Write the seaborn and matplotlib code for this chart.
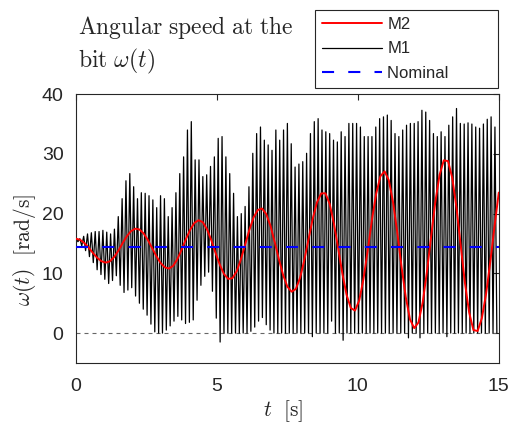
import numpy as np
import pandas as pd
import matplotlib
matplotlib.use("Agg")
import matplotlib.pyplot as plt
import seaborn as sns

# M1 (black): top and bottom of every stick-slip cycle
m1_peaks = [
    15.9, 15.8, 16.2,
    16.6, 16.8, 17.0, 17.0, 17.2, 16.9, 16.6, 17.4,
    19.5, 22.5, 25.5, 26.7, 24.5, 22.5, 23.5,
    23.4, 23.0, 22.3, 21.0, 23.0, 22.5, 19.5, 21.0,
    23.5, 26.7, 29.5, 34.0, 35.4,
    29.0, 29.0, 26.2, 26.5, 27.9, 29.5,
    32.6, 32.9, 29.5, 26.7, 23.4, 19.5,
    20.0, 21.2, 24.5, 30.1,
    33.4, 34.5, 32.3, 31.5, 30.6,
    34.0, 32.3, 34.0, 35.1,
    31.7, 27.8, 28.3, 28.7, 30.1,
    33.4, 35.4, 35.9, 34.0, 33.7, 33.4, 32.3,
    32.0, 33.7, 32.9, 35.1, 35.1, 35.1, 34.5,
    32.9, 32.9, 32.9, 34.5, 35.9, 36.2, 36.5,
    35.6, 33.4, 32.9, 34.0, 34.8, 35.1,
    35.1, 35.4, 37.3, 37.0, 35.6, 33.4,
    32.9, 33.7, 32.9, 34.8, 36.2, 37.6,
    35.1, 35.0, 35.2, 35.0, 34.5, 34.3, 35.0, 35.8, 36.2, 34.5,
]
m1_troughs = [
    15.3, 14.6, 13.8,
    12.8, 11.8, 10.6, 9.8, 9.0, 8.3, 8.8, 9.6,
    8.0, 6.8, 7.2, 7.6, 6.2, 5.0, 4.0,
    3.0, 1.5, 0.2, 0.0, 0.0, 0.5, 1.2, 2.0,
    2.8, 2.2, 1.6, 1.8, 2.2,
    5.5, 8.0, 9.5, 10.2, 7.0, 2.5,
    -1.5, 0.0, 0.0, 0.0, 0.0, 0.0,
    0.0, 0.0, 0.3, 1.0,
    2.0, 2.6, 1.4, 0.5, 0.0,
    0.0, 0.0, 0.0, 0.0,
    0.0, 0.0, 0.0, 0.0, 0.0,
    -0.6, 0.0, 0.0, 0.0, 0.0, 2.0, 0.0,
    0.0, -1.2, 0.0, 0.0, 0.0, 0.0, 0.0,
    0.0, 0.0, 0.0, 0.0, 0.0, 0.0, 0.0,
    0.0, 0.0, 0.0, 0.0, -0.8, 0.0,
    0.0, -0.8, 0.0, 0.0, 0.0, 0.0,
    0.0, 0.0, -0.6, 0.0, 0.0, 0.0,
    0.0, 0.0, 0.0, 0.0, 0.0, 0.0, 0.0, 0.0, 0.0, 0.0,
]
m1_period = 15 / 110  # s

# M2 (red): value every 0.15 s from 0 to 15 s
m2_step = 0.15
m2_w = [
    15.80, 15.61, 15.06, 14.30, 13.42, 12.62, 12.04, 11.80, 12.00, 12.71,
    13.78, 15.03, 16.19, 17.06, 17.48, 17.35, 16.68, 15.58, 14.24, 12.89,
    11.75, 11.01, 10.80, 11.27, 12.41, 13.98, 15.72, 17.29, 18.44, 18.90,
    18.56, 17.37, 15.56, 13.45, 11.48, 9.89, 9.07, 9.19, 10.33, 12.33,
    14.78, 17.26, 19.35, 20.61, 20.86, 19.93, 17.95, 15.24, 12.35, 9.70,
    7.77, 6.93, 7.38, 9.25, 12.21, 15.72, 19.16, 21.88, 23.38, 23.40,
    21.63, 18.35, 14.25, 9.99, 6.41, 4.20, 3.77, 5.48, 9.08, 13.86,
    18.96, 23.31, 26.26, 27.07, 25.57, 21.87, 16.79, 11.11, 6.03, 2.30,
    0.83, 1.77, 5.12, 10.23, 16.19, 21.99, 26.50, 28.92, 28.79, 25.97,
    20.96, 14.65, 8.36, 3.42, 0.51, 0.35, 2.51, 6.59, 12.00, 17.90,
    23.52,
]

nominal_w = 14.4
t_span = [0, 15]

# build the series
n = len(m1_peaks)
m1 = pd.DataFrame({
    "t": np.ravel(np.column_stack([np.arange(n), np.arange(n) + 0.5])) * m1_period,
    "w": np.ravel(np.column_stack([m1_peaks, m1_troughs])),
})
m2 = pd.DataFrame({"t": np.arange(len(m2_w)) * m2_step, "w": m2_w})
nom = pd.DataFrame({"t": t_span, "w": [nominal_w] * 2})

sns.set_theme(style="white")
plt.rcParams["font.family"] = ["Liberation Sans", "DejaVu Sans"]
plt.rcParams["mathtext.fontset"] = "cm"
plt.rcParams["axes.edgecolor"] = "0.15"
plt.rcParams["axes.linewidth"] = 0.8

fig = plt.figure(figsize=(5.1, 4.28), dpi=100)
ax = fig.add_axes([0.149, 0.152, 0.829, 0.628])

ax.axhline(0, color="0.4", lw=0.8, ls=(0, (3.6, 3.6)), zorder=1)
sns.lineplot(data=m1, x="t", y="w", color="black", lw=0.9, estimator=None,
             sort=False, label="M1", ax=ax, zorder=2)
sns.lineplot(data=m2, x="t", y="w", color="red", lw=1.4, estimator=None,
             sort=False, label="M2", ax=ax, zorder=3)
sns.lineplot(data=nom, x="t", y="w", color="blue", lw=1.5, estimator=None,
             linestyle=(0, (5.8, 6.8)), label="Nominal", ax=ax, zorder=4)

ax.set_xlim(0, 15)
ax.set_ylim(-5, 40)
ax.set_xticks([0, 5, 10, 15])
ax.set_yticks([0, 10, 20, 30, 40])
ax.tick_params(direction="in", length=4, width=0.8, top=True, right=True,
               labelsize=14, colors="0.15")
ax.tick_params(axis="x", pad=11)
ax.tick_params(axis="y", pad=9)
for s in ax.spines.values():
    s.set_visible(True)

ax.set_xlabel(r"$t\ \ [\mathrm{s}]$", fontsize=15.5)
ax.set_ylabel(r"$\omega(t)\ \ [\mathrm{rad/s}]$", fontsize=15.5)
ax.xaxis.set_label_coords(0.49, -0.13)
ax.yaxis.set_label_coords(-0.09, 0.42)

fig.text(78 / 510, 1 - 34 / 428, r"$\mathrm{Angular\ speed\ at\ the}$",
         fontsize=17, va="baseline")
fig.text(78 / 510, 1 - 67 / 428, r"$\mathrm{bit}\ \omega(t)$",
         fontsize=17, va="baseline")

handles, labels = ax.get_legend_handles_labels()
order = [labels.index(k) for k in ["M2", "M1", "Nominal"]]
leg = ax.legend([handles[i] for i in order],
                ["M2", "M1", "Nominal         "],
                loc="lower right", bbox_to_anchor=(498 / 510, 1 - 88 / 428),
                bbox_transform=fig.transFigure, borderaxespad=0,
                frameon=True, fancybox=False, framealpha=1, edgecolor="0.15",
                fontsize=12, handlelength=3.6, handletextpad=0.3,
                labelspacing=0.55, borderpad=0.45)
leg.get_frame().set_linewidth(0.8)

fig.savefig("out.png", dpi=100)
